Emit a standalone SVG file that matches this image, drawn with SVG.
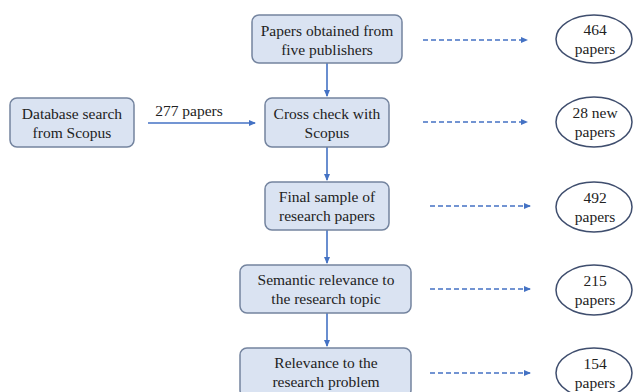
<svg xmlns="http://www.w3.org/2000/svg" width="633" height="392" viewBox="0 0 633 392">
<defs>
<style>
.box{fill:#dae3f2;stroke:#74849f;stroke-width:1.5}
.ell{fill:#ffffff;stroke:#3f4e6e;stroke-width:1.5}
.t{font-family:"Liberation Serif","Times New Roman",serif;font-size:15.5px;fill:#222;text-anchor:middle}
.solid{stroke:#4472c4;stroke-width:1.6;fill:none}
.dash{stroke:#4472c4;stroke-width:1.6;fill:none;stroke-dasharray:5,3}
</style>
<marker id="ah" markerWidth="8" markerHeight="8" refX="6" refY="4" orient="auto" markerUnits="userSpaceOnUse">
<path d="M0,1 L7,4 L0,7 Z" fill="#4472c4"/>
</marker>
</defs>
<rect width="633" height="392" fill="#ffffff"/>
<g id="connectors">
<line class="solid" x1="148" y1="123" x2="255" y2="123" marker-end="url(#ah)"/>
<line class="solid" x1="327" y1="63" x2="327" y2="96" marker-end="url(#ah)"/>
<line class="solid" x1="327" y1="147" x2="327" y2="180" marker-end="url(#ah)"/>
<line class="solid" x1="327" y1="230" x2="327" y2="263" marker-end="url(#ah)"/>
<line class="solid" x1="327" y1="313" x2="327" y2="346" marker-end="url(#ah)"/>
<line class="dash" x1="423" y1="40" x2="527" y2="40" marker-end="url(#ah)"/>
<line class="dash" x1="423" y1="122" x2="527" y2="122" marker-end="url(#ah)"/>
<line class="dash" x1="430" y1="206" x2="530" y2="206" marker-end="url(#ah)"/>
<line class="dash" x1="430" y1="289" x2="530" y2="289" marker-end="url(#ah)"/>
<line class="dash" x1="430" y1="373" x2="530" y2="373" marker-end="url(#ah)"/>
<text class="t" x="189" y="116">277 papers</text>
</g>
<g id="db">
<rect class="box" x="10" y="98" width="124" height="49" rx="7"/>
<text class="t" x="72" y="119">Database search</text>
<text class="t" x="72" y="138">from Scopus</text>
</g>
<g id="b1">
<rect class="box" x="252" y="15" width="150" height="48" rx="7"/>
<text class="t" x="327" y="36">Papers obtained from</text>
<text class="t" x="327" y="55">five publishers</text>
</g>
<g id="b2">
<rect class="box" x="265" y="98" width="124" height="49" rx="7"/>
<text class="t" x="327" y="119">Cross check with</text>
<text class="t" x="327" y="138">Scopus</text>
</g>
<g id="b3">
<rect class="box" x="265" y="182" width="124" height="48" rx="7"/>
<text class="t" x="327" y="202">Final sample of</text>
<text class="t" x="327" y="221">research papers</text>
</g>
<g id="b4">
<rect class="box" x="240" y="265" width="171" height="48" rx="7"/>
<text class="t" x="326" y="285">Semantic relevance to</text>
<text class="t" x="326" y="304">the research topic</text>
</g>
<g id="b5">
<rect class="box" x="240" y="348" width="171" height="49" rx="7"/>
<text class="t" x="326" y="368">Relevance to the</text>
<text class="t" x="326" y="387">research problem</text>
</g>
<g id="e1">
<ellipse class="ell" cx="594" cy="39" rx="38" ry="24"/>
<text class="t" x="595" y="35">464</text>
<text class="t" x="595" y="54">papers</text>
</g>
<g id="e2">
<ellipse class="ell" cx="594" cy="122" rx="38" ry="25"/>
<text class="t" x="595" y="118">28 new</text>
<text class="t" x="595" y="137">papers</text>
</g>
<g id="e3">
<ellipse class="ell" cx="594" cy="207" rx="38" ry="25"/>
<text class="t" x="595" y="203">492</text>
<text class="t" x="595" y="222">papers</text>
</g>
<g id="e4">
<ellipse class="ell" cx="594" cy="290" rx="38" ry="25"/>
<text class="t" x="595" y="286">215</text>
<text class="t" x="595" y="305">papers</text>
</g>
<g id="e5">
<ellipse class="ell" cx="594" cy="373" rx="38" ry="25"/>
<text class="t" x="595" y="369">154</text>
<text class="t" x="595" y="388">papers</text>
</g>
</svg>
